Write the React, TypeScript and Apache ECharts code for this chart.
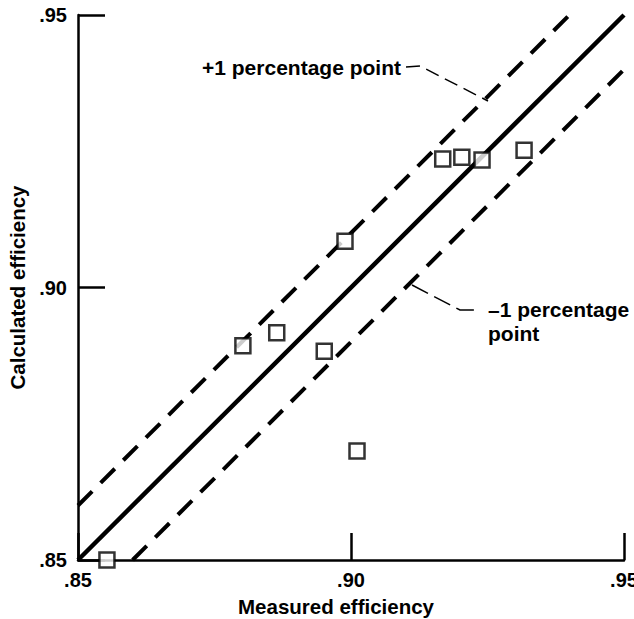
import React, { useEffect, useRef } from "react";
import * as echarts from "echarts";

const measured = [0.8553, 0.8802, 0.8864, 0.8951, 0.8989, 0.9011, 0.9168, 0.9203, 0.924, 0.9317];
const calculated = [0.85, 0.8893, 0.8917, 0.8883, 0.9085, 0.87, 0.9236, 0.9239, 0.9234, 0.9252];
const solidLine = [[0.85, 0.85], [0.95, 0.95]];
const plusLine = [[0.85, 0.86], [0.94, 0.95]];
const minusLine = [[0.86, 0.85], [0.95, 0.94]];
const tickLabels: Record<string, string> = { "0.85": ".85", "0.9": ".90", "0.95": ".95" };
const xTitle = "Measured efficiency";
const yTitle = "Calculated efficiency";
const plusLabel = "+1 percentage point";
const minusLabel = "–1 percentage\npoint";

const FONT = "'Liberation Sans', Arial, Helvetica, sans-serif";

function fmt(v: number) {
  const k = String(Math.round(v * 100) / 100);
  return tickLabels[k] ?? k;
}

export default function App() {
  const ref = useRef<HTMLDivElement>(null);
  useEffect(() => {
    if (!ref.current) return;
    const chart = echarts.init(ref.current, undefined, { renderer: "svg" });
    const axisCommon = {
      type: "value" as const,
      min: 0.85,
      max: 0.95,
      interval: 0.05,
      splitLine: { show: false },
      axisLine: { show: true, lineStyle: { color: "#000", width: 2.5 } },
      axisTick: { show: true, inside: true, length: 27, lineStyle: { color: "#000", width: 2.5 } },
      nameLocation: "middle" as const,
      nameTextStyle: { fontFamily: FONT, fontWeight: "bold" as const, fontSize: 20.5, color: "#000" },
    };
    const labelStyle = {
      formatter: fmt,
      fontFamily: FONT,
      fontWeight: "bold" as const,
      fontSize: 20,
      color: "#000",
      showMaxLabel: true,
      showMinLabel: true,
    };
    chart.setOption({
      animation: false,
      backgroundColor: "#fff",
      grid: { left: 78, right: 10, top: 15, bottom: 59, outerBoundsMode: "none", containLabel: false },
      xAxis: {
        ...axisCommon,
        name: xTitle,
        nameGap: 36,
        nameTextStyle: { ...axisCommon.nameTextStyle, padding: [0, 30, 0, 0] },
        axisLabel: { ...labelStyle, margin: 10 },
      },
      yAxis: {
        ...axisCommon,
        name: yTitle,
        nameGap: 46,
        axisLabel: { ...labelStyle, margin: 11 },
      },
      series: [
        {
          type: "line",
          data: solidLine,
          symbol: "none",
          lineStyle: { color: "#000", width: 4.5, cap: "butt" },
          z: 2,
        },
        {
          type: "line",
          data: plusLine,
          symbol: "none",
          lineStyle: { color: "#000", width: 4, type: [20, 12], cap: "butt" },
          z: 2,
        },
        {
          type: "line",
          data: minusLine,
          symbol: "none",
          lineStyle: { color: "#000", width: 4, type: [20, 12], cap: "butt" },
          z: 2,
        },
        {
          type: "scatter",
          data: measured.map((m, i) => [m, calculated[i]]),
          symbol: "rect",
          symbolSize: 15,
          itemStyle: { color: "#fff", borderColor: "#000", borderWidth: 2.5 },
          z: 5,
        },
      ],
      graphic: [
        {
          type: "text",
          left: 202,
          top: 57,
          style: { text: plusLabel, font: `bold 21px ${FONT}`, fill: "#000" },
        },
        {
          type: "polyline",
          shape: { points: [[406, 67], [420, 66], [488, 101]] },
          style: { stroke: "#000", lineWidth: 1.5, lineDash: [14, 7], fill: "none" },
        },
        {
          type: "text",
          left: 488,
          top: 297,
          style: { text: minusLabel, font: `bold 21px ${FONT}`, fill: "#000", lineHeight: 24 },
        },
        {
          type: "polyline",
          shape: { points: [[412, 285], [460, 310], [478, 310]] },
          style: { stroke: "#000", lineWidth: 1.5, lineDash: [18, 7], fill: "none" },
        },
      ],
    });
    return () => chart.dispose();
  }, []);
  return (
    <div
      ref={ref}
      style={{ position: "fixed", left: 0, top: 0, width: 634, height: 619, background: "#fff" }}
    />
  );
}
